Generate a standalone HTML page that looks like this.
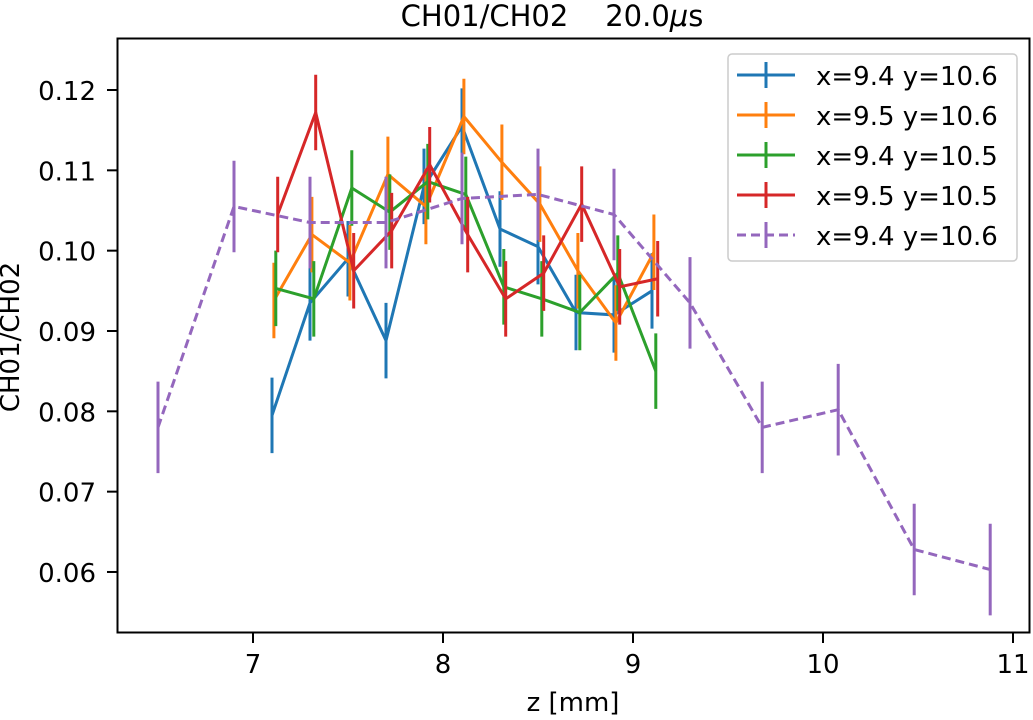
<!DOCTYPE html>
<html><head><meta charset="utf-8"><style>
body{margin:0;background:#fff;}
svg text{font-family:"DejaVu Sans","Liberation Sans",sans-serif;fill:#000;}
</style></head><body>
<svg id="chart" width="1033" height="715" xmlns="http://www.w3.org/2000/svg">
<rect x="0" y="0" width="1033" height="715" fill="#fff"/>
<g id="marks"></g>
<rect x="117.5" y="38.5" width="912" height="594" fill="none" stroke="#000" stroke-width="2"/>
<g id="ticks"></g>
<text x="552" y="26" font-size="29" text-anchor="middle" style="white-space:pre">CH01/CH02&#160;&#160;&#160;&#160;20.0<tspan font-style="italic">μ</tspan>s</text>
<text x="573" y="711" font-size="26" text-anchor="middle">z [mm]</text>
<text transform="translate(19,337) rotate(-90)" font-size="26" text-anchor="middle">CH01/CH02</text>
<g id="legend">
<rect x="728" y="54" width="289" height="207" rx="4" fill="#fff" stroke="#ccc" stroke-width="1.5"/>
</g>
</svg>
<script>
const zA=[7.1,7.3,7.5,7.7,7.9,8.1,8.3,8.5,8.7,8.9,9.1];
const blueV=[0.0795,0.0935,0.099,0.0888,0.108,0.1155,0.1027,0.1005,0.0923,0.092,0.095];
const orangeV=[0.0938,0.102,0.0985,0.1095,0.1055,0.1167,0.111,0.1058,0.0975,0.091,0.0998];
const greenV=[0.0953,0.094,0.1078,0.1048,0.1086,0.107,0.0955,0.094,0.0923,0.0972,0.085];
const redV=[0.1045,0.1172,0.0975,0.1025,0.1107,0.102,0.094,0.0972,0.1058,0.0955,0.0965];
const zP=[6.5,6.9,7.3,7.7,8.1,8.5,8.9,9.3,9.68,10.08,10.48,10.88];
const purpleV=[0.078,0.1055,0.1035,0.1035,0.1065,0.107,0.1045,0.0935,0.078,0.0802,0.0628,0.0603];
const errA=0.0047, errP=0.0057;
const xTicks=[7,8,9,10,11];
const yTicks=[0.06,0.07,0.08,0.09,0.10,0.11,0.12];
const legendLabels=["x=9.4 y=10.6","x=9.5 y=10.6","x=9.4 y=10.5","x=9.5 y=10.5","x=9.4 y=10.6"];
const NS="http://www.w3.org/2000/svg";
const X=z=>253+(z-7)*190;
const Y=v=>90+(0.12-v)*8033;
function mk(t,a,p){const e=document.createElementNS(NS,t);for(const k in a)e.setAttribute(k,a[k]);p.appendChild(e);return e;}
const marks=document.getElementById('marks');
const series=[
 {n:'blue',z:zA,v:blueV,c:'#1f77b4',o:0,e:errA},
 {n:'orange',z:zA,v:orangeV,c:'#ff7f0e',o:0.01,e:errA},
 {n:'green',z:zA,v:greenV,c:'#2ca02c',o:0.02,e:errA},
 {n:'red',z:zA,v:redV,c:'#d62728',o:0.03,e:errA},
 {n:'purple',z:zP,v:purpleV,c:'#9467bd',o:0,e:errP,d:'9,5'}
];
series.forEach(s=>{
 const g=mk('g',{},marks);
 
 
 const pts=s.z.map((z,i)=>X(z+s.o)+','+Y(s.v[i])).join(' ');
 const pl=mk('polyline',{points:pts,fill:'none',stroke:s.c,'stroke-width':3},g);
 if(s.d)pl.setAttribute('stroke-dasharray',s.d);
 
 
 s.z.forEach((z,i)=>{
  const l=mk('line',{x1:X(z+s.o),x2:X(z+s.o),y1:Y(s.v[i]+s.e),y2:Y(s.v[i]-s.e),stroke:s.c,'stroke-width':3},g);
  
  
 });
});
const tk=document.getElementById('ticks');
xTicks.forEach(t=>{
 mk('line',{x1:X(t),x2:X(t),y1:633,y2:643,stroke:'#000','stroke-width':2},tk);
 const tx=mk('text',{x:X(t),y:673,'font-size':26,'text-anchor':'middle'},tk);
 tx.textContent=t;
 
 
});
yTicks.forEach(t=>{
 mk('line',{x1:107,x2:117,y1:Y(t),y2:Y(t),stroke:'#000','stroke-width':2},tk);
 const tx=mk('text',{x:96,y:Y(t)+10,'font-size':26,'text-anchor':'end'},tk);
 tx.textContent=t.toFixed(2);
 
 
});
const lg=document.getElementById('legend');
series.forEach((s,i)=>{
 const y=75+i*40;
 const g=mk('g',{},lg);
 
 
 const l=mk('line',{x1:737,x2:795,y1:y,y2:y,stroke:s.c,'stroke-width':3},g);
 if(s.d)l.setAttribute('stroke-dasharray',s.d);
 mk('line',{x1:766,x2:766,y1:y-13,y2:y+13,stroke:s.c,'stroke-width':3},g);
 const t=mk('text',{x:816,y:y+10,'font-size':26},g);
 t.textContent=legendLabels[i];
});
</script>
</body></html>
